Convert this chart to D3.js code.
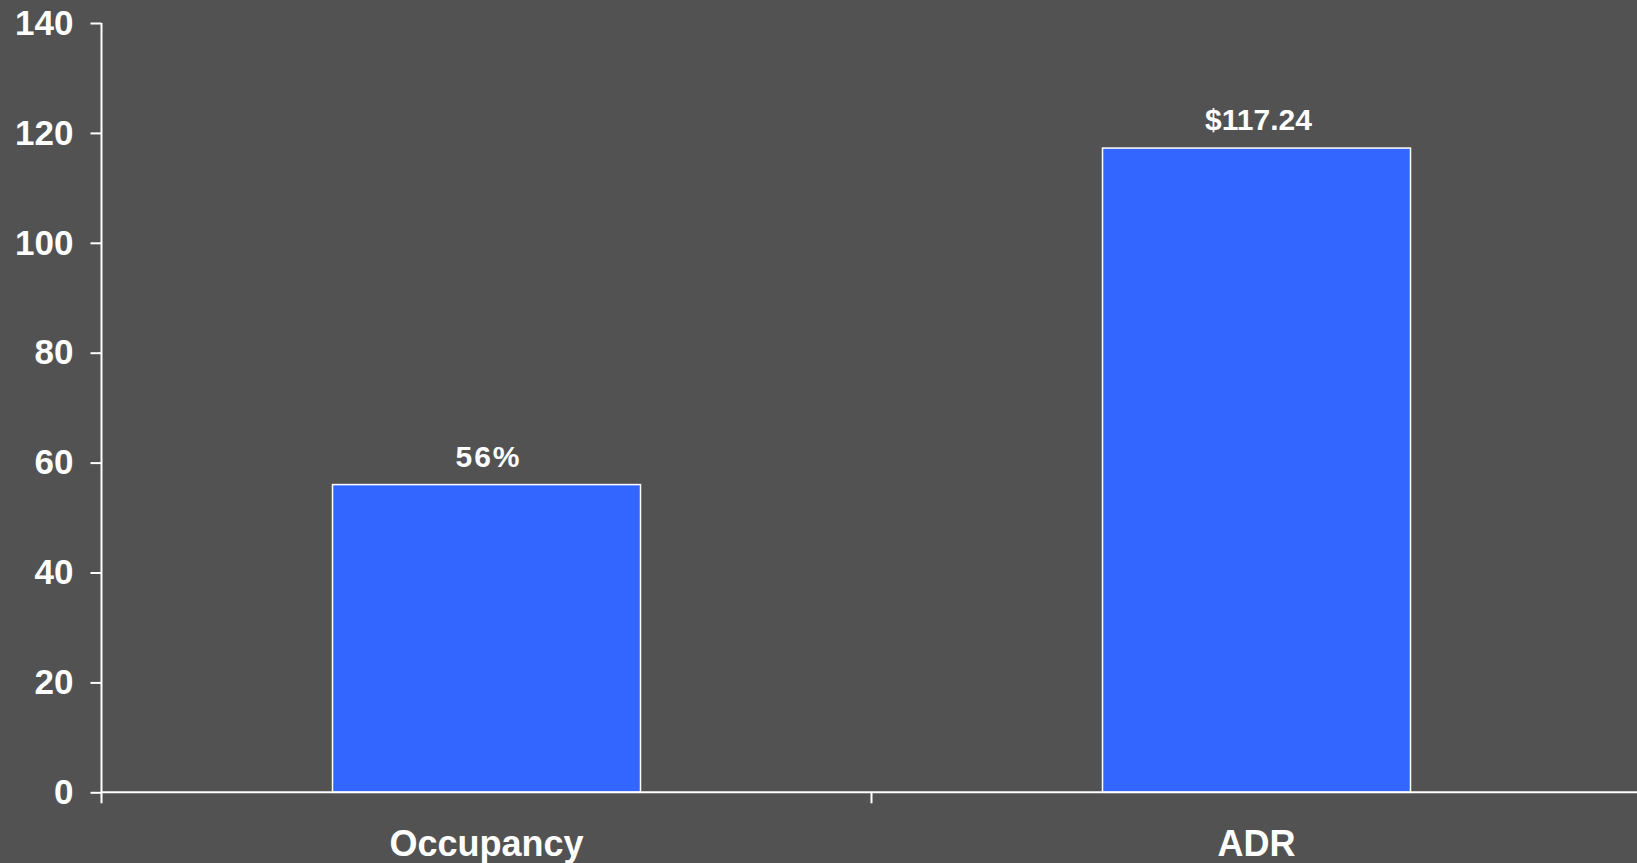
<!DOCTYPE html>
<html>
<head>
<meta charset="utf-8">
<script src="https://cdn.jsdelivr.net/npm/d3@7"></script>
<style>
  html, body { margin: 0; padding: 0; background: #525252; overflow: hidden; }
  svg { display: block; }
  text { font-family: "Liberation Sans", Arial, sans-serif; font-weight: bold; fill: #ffffff; }
</style>
</head>
<body>
<svg id="chart" width="1637" height="863"></svg>
<script>
const categories = ["Occupancy", "ADR"];
const values = [56, 117.24];
const valueLabels = ["56%", "$117.24"];
const yTicks = [0, 20, 40, 60, 80, 100, 120, 140];

const W = 1637, H = 863;
const plotLeft = 101.5, plotTop = 23, plotBottom = 792.3;
const svg = d3.select("#chart");

svg.append("rect").attr("width", W).attr("height", H).attr("fill", "#525252");

const x = d3.scaleBand().domain(categories).range([plotLeft, plotLeft + 2 * 770]).padding(0);
const y = d3.scaleLinear().domain([0, 140]).range([plotBottom, plotTop]);
const barW = x.bandwidth() * 0.4;

// bars
svg.selectAll("rect.bar").data(categories).enter().append("rect")
  .attr("class", "bar")
  .attr("x", (d) => x(d) + x.bandwidth() / 2 - barW / 2)
  .attr("y", (d, i) => y(values[i]))
  .attr("width", barW)
  .attr("height", (d, i) => y(0) - y(values[i]))
  .attr("fill", "#3366FF")
  .attr("stroke", "#ffffff")
  .attr("stroke-width", 1.5);

// value labels
svg.selectAll("text.val").data(categories).enter().append("text")
  .attr("class", "val")
  .attr("x", (d) => x(d) + x.bandwidth() / 2 + 2)
  .attr("y", (d, i) => y(values[i]) - 18)
  .attr("text-anchor", "middle")
  .attr("font-size", 30)
  .attr("letter-spacing", (d, i) => i === 0 ? 2 : 0)
  .text((d, i) => valueLabels[i]);

// y axis
const yAxis = d3.axisLeft(y).tickValues(yTicks).tickSize(11).tickPadding(17).tickFormat(d3.format("d"));
const gy = svg.append("g").attr("transform", `translate(${plotLeft},0)`).call(yAxis);
gy.select(".domain").attr("stroke", "#ffffff").attr("stroke-width", 2).attr("d", `M0,${plotTop}V${plotBottom + 11}`);
gy.selectAll(".tick line").attr("stroke", "#ffffff").attr("stroke-width", 2);
gy.selectAll(".tick text").attr("font-size", 35).attr("fill", "#ffffff")
  .style("font-family", '"Liberation Sans", Arial, sans-serif').style("font-weight", "bold");

// x axis
const xAxis = d3.axisBottom(x).tickSize(0).tickPadding(0).tickFormat("");
const gx = svg.append("g").attr("transform", `translate(0,${plotBottom})`).call(xAxis);
gx.select(".domain").attr("stroke", "#ffffff").attr("stroke-width", 2).attr("d", `M${plotLeft},0H${W}`);
gx.selectAll(".tick").remove();
gx.selectAll("line.sep").data(categories.slice(1)).enter().append("line")
  .attr("class", "sep")
  .attr("x1", (d) => x(d)).attr("x2", (d) => x(d))
  .attr("y1", 0).attr("y2", 11)
  .attr("stroke", "#ffffff").attr("stroke-width", 2);

// category labels
svg.selectAll("text.cat").data(categories).enter().append("text")
  .attr("class", "cat")
  .attr("x", (d) => x(d) + x.bandwidth() / 2)
  .attr("y", 856)
  .attr("text-anchor", "middle")
  .attr("font-size", 36)
  .text((d) => d);
</script>
</body>
</html>
